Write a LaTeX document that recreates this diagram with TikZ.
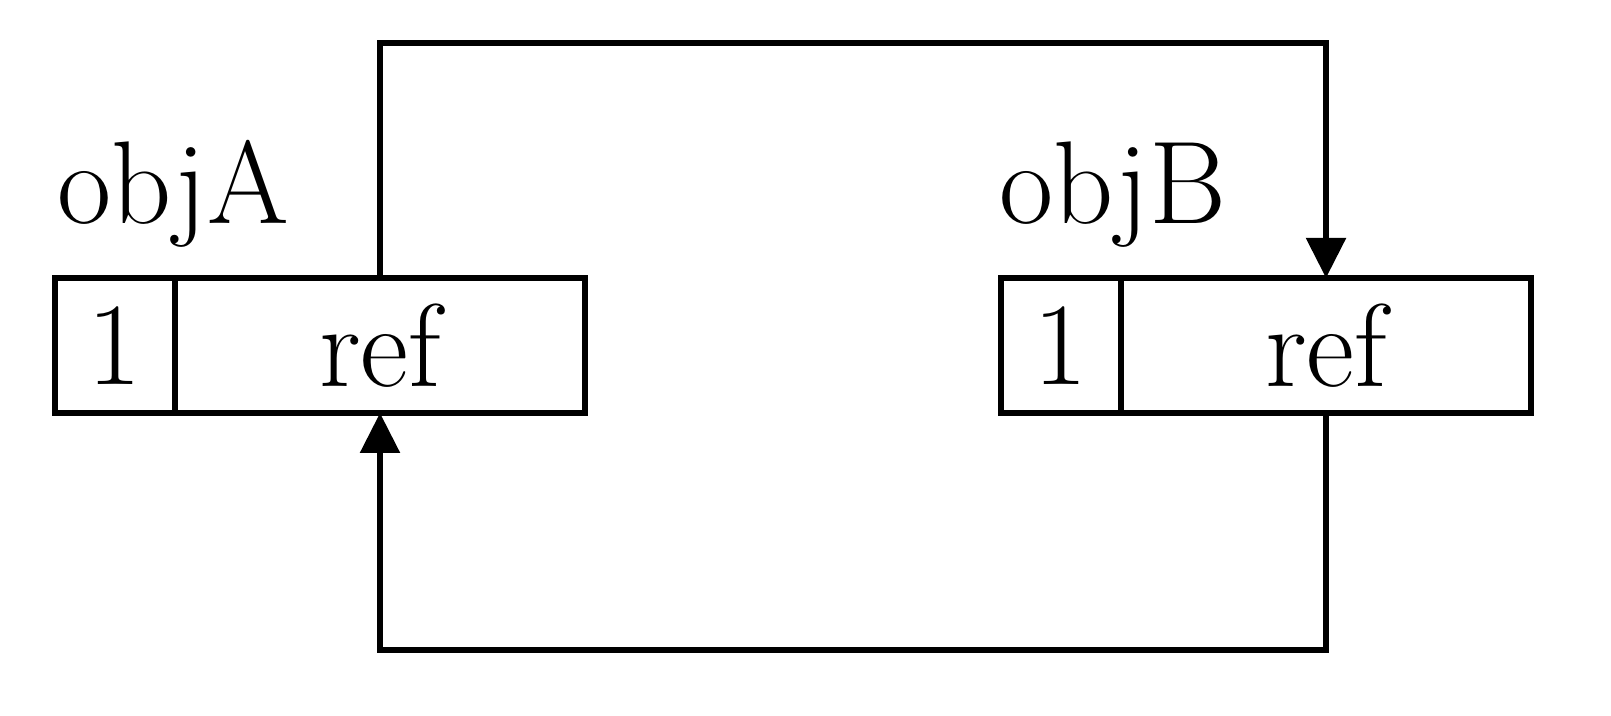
\documentclass[tikz,border=0pt]{standalone}
\usetikzlibrary{positioning,arrows.meta}
\begin{document}
\begin{tikzpicture}[
    cell/.style={draw, line width=1.6pt, outer sep=0pt, inner sep=0pt,
      minimum height=1.35cm, font=\fontsize{33.5}{40}\selectfont},
    objname/.style={anchor=base west, inner sep=0pt, font=\fontsize{33.5}{40}\selectfont},
    link/.style={line width=1.6pt, -{Triangle[length=4mm,width=3.9mm]}}
  ]
  \useasboundingbox (0,0) rectangle (16.11,7.16);

  % object A
  \node[cell, minimum width=1.2cm] (aone) at (1.15,3.705) {1};
  \node[cell, minimum width=4.1cm, right=0cm of aone] (aref) {ref};
  \node[objname] (aname) at (0.57,4.92) {objA};

  % object B
  \node[cell, minimum width=1.2cm] (bone) at (10.61,3.705) {1};
  \node[cell, minimum width=4.1cm, right=0cm of bone] (bref) {ref};
  \node[objname] (bname) at (9.99,4.92) {objB};

  % references
  \draw[link] (aref.north) -- ++(0,2.35) -| (bref.north);
  \draw[link] (bref.south) -- ++(0,-2.37) -| (aref.south);
\end{tikzpicture}
\end{document}
